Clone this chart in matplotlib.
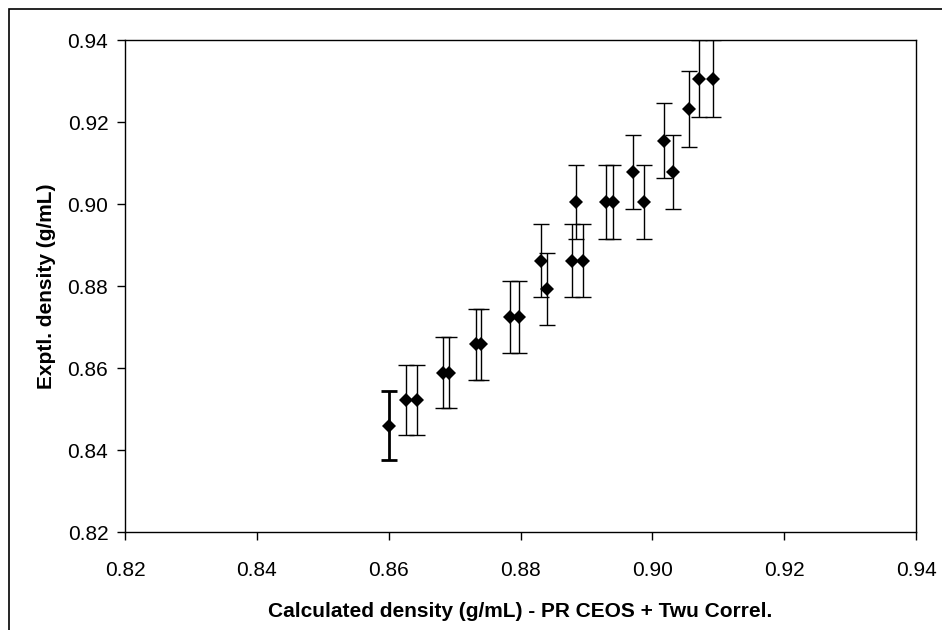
import matplotlib
matplotlib.use("Agg")
import matplotlib.pyplot as plt
from matplotlib.patches import Rectangle
import numpy as np

plt.rcParams['font.family'] = ['Liberation Sans', 'DejaVu Sans']

calc_density = [0.8600, 0.8627, 0.8643, 0.8682, 0.8691, 0.8733, 0.8740, 0.8784,
                0.8797, 0.8831, 0.8840, 0.8878, 0.8895, 0.8884, 0.8929, 0.8940,
                0.8971, 0.8987, 0.9017, 0.9032, 0.9055, 0.9071, 0.9092]
expt_density = [0.8459, 0.8522, 0.8522, 0.8589, 0.8589, 0.8658, 0.8658, 0.8724,
                0.8724, 0.8862, 0.8792, 0.8862, 0.8862, 0.9005, 0.9005, 0.9005,
                0.9078, 0.9005, 0.9154, 0.9078, 0.9231, 0.9306, 0.9306]
error_percent = 1.0
x_ticks = [0.82, 0.84, 0.86, 0.88, 0.90, 0.92, 0.94]
y_ticks = [0.82, 0.84, 0.86, 0.88, 0.90, 0.92, 0.94]
x_label = "Calculated density (g/mL) - PR CEOS + Twu Correl."
y_label = "Exptl. density (g/mL)"

W, H = 942, 630
fig = plt.figure(figsize=(W / 100, H / 100), dpi=100)
ax = fig.add_axes([125 / W, 1 - 532 / H, (916 - 125) / W, (532 - 40) / H])

x = np.array(calc_density)
y = np.array(expt_density)
yerr = y * error_percent / 100.0

lws = [2.0] + [1.0] * (len(x) - 1)
for xi, yi, ei, lw in zip(x, y, yerr, lws):
    ax.errorbar([xi], [yi], yerr=[ei], fmt='none', ecolor='black',
                elinewidth=lw, capsize=5.5, capthick=lw)
ax.plot(x, y, linestyle='none', marker='D', color='black', ms=7.5,
        markeredgewidth=0, zorder=5)

ax.set_xlim(0.82, 0.94)
ax.set_ylim(0.82, 0.94)
ax.set_xticks(x_ticks)
ax.set_yticks(y_ticks)
ax.set_xticklabels([f"{t:.2f}" for t in x_ticks], fontsize=15)
ax.set_yticklabels([f"{t:.2f}" for t in y_ticks], fontsize=15)
ax.tick_params(axis='x', direction='out', length=6, width=1, top=False, pad=15)
ax.tick_params(axis='y', direction='out', length=6, width=1, right=False, pad=6)
for s in ax.spines.values():
    s.set_linewidth(1.0)
    s.set_color('black')

ax.set_xlabel(x_label, fontsize=15, fontweight='bold', labelpad=16)
ax.set_ylabel(y_label, fontsize=15, fontweight='bold', labelpad=8)

fig.patches.append(Rectangle((9 / W, -0.1), 1.2, 1 - 9 / H + 0.1,
                             transform=fig.transFigure, fill=False,
                             edgecolor='black', linewidth=1.2))

fig.savefig("out.png", dpi=100)
